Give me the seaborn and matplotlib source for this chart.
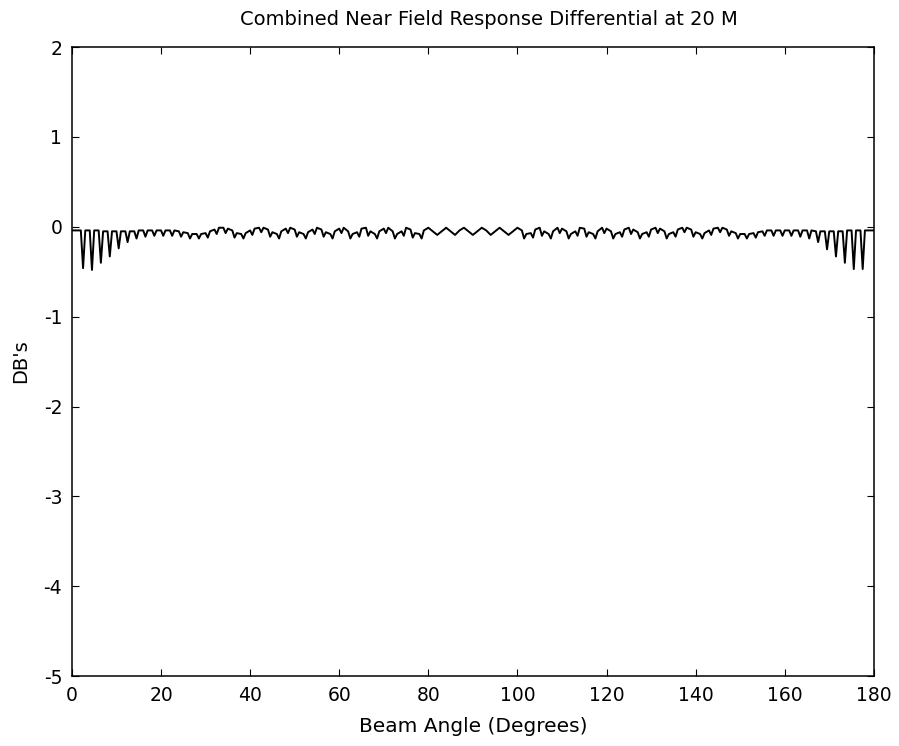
import numpy as np
import pandas as pd
import matplotlib
matplotlib.use("Agg")
import matplotlib.pyplot as plt
import seaborn as sns

# ---- data ----
# base response at every whole degree 0..180 (dB)
wave_deg = list(range(0, 181))
wave_db = [
    # 0-9
    -0.04, -0.04, -0.04, -0.04, -0.04, -0.04, -0.04, -0.05, -0.05, -0.05,
    # 10-19
    -0.05, -0.05, -0.05, -0.05, -0.05, -0.04, -0.04, -0.04, -0.04, -0.04,
    # 20-29
    -0.04, -0.04, -0.04, -0.04, -0.05, -0.06, -0.07, -0.08, -0.08, -0.08,
    # 30-39
    -0.07, -0.05, -0.03, -0.01, -0.01, -0.02, -0.04, -0.07, -0.08, -0.07,
    # 40-49
    -0.04, -0.02, -0.01, -0.01, -0.03, -0.06, -0.08, -0.05, -0.02, -0.01,
    # 50-59
    -0.03, -0.06, -0.08, -0.06, -0.03, -0.01, -0.03, -0.06, -0.08, -0.05,
    # 60-69
    -0.02, -0.01, -0.05, -0.08, -0.06, -0.02, -0.01, -0.05, -0.08, -0.05,
    # 70-79
    -0.02, -0.01, -0.05, -0.08, -0.05, -0.01, -0.03, -0.07, -0.08, -0.04,
    # 80-89
    -0.01, -0.05, -0.09, -0.05, -0.01, -0.05, -0.09, -0.04, -0.01, -0.05,
    # 90-99
    -0.09, -0.05, -0.01, -0.04, -0.09, -0.05, -0.01, -0.05, -0.09, -0.05,
    # 100-109
    -0.01, -0.04, -0.08, -0.07, -0.03, -0.01, -0.05, -0.08, -0.05, -0.01,
    # 110-119
    -0.02, -0.05, -0.08, -0.05, -0.01, -0.02, -0.06, -0.08, -0.05, -0.01,
    # 120-129
    -0.02, -0.05, -0.08, -0.06, -0.03, -0.01, -0.03, -0.06, -0.08, -0.06,
    # 130-139
    -0.03, -0.01, -0.02, -0.05, -0.08, -0.06, -0.03, -0.01, -0.01, -0.03,
    # 140-149
    -0.06, -0.08, -0.07, -0.04, -0.02, -0.01, -0.01, -0.03, -0.05, -0.07,
    # 150-159
    -0.08, -0.08, -0.08, -0.07, -0.06, -0.05, -0.04, -0.04, -0.04, -0.04,
    # 160-169
    -0.04, -0.04, -0.04, -0.04, -0.04, -0.04, -0.04, -0.05, -0.05, -0.05,
    # 170-180
    -0.05, -0.05, -0.05, -0.05, -0.04, -0.04, -0.04, -0.04, -0.04, -0.04, -0.04,
]

# narrow dips (spikes) between the whole degrees
spike_deg = [
    2.5, 4.5, 6.5, 8.5, 10.5, 12.5, 14.5, 16.5, 18.5, 20.5,
    22.5, 24.5, 26.5, 28.5, 30.5, 32.5, 34.5, 36.5, 38.5, 40.5,
    42.5, 44.5, 46.5, 48.5, 50.5, 52.5, 54.5, 56.5, 58.5, 60.5,
    62.5, 64.5, 66.5, 68.5, 70.5, 72.5, 74.5, 76.5, 78.5,
    101.5, 103.5, 105.5, 107.5, 109.5, 111.5, 113.5, 115.5, 117.5, 119.5,
    121.5, 123.5, 125.5, 127.5, 129.5, 131.5, 133.5, 135.5, 137.5, 139.5,
    141.5, 143.5, 145.5, 147.5, 149.5, 151.5, 153.5, 155.5, 157.5, 159.5,
    161.5, 163.5, 165.5, 167.5, 169.5, 171.5, 173.5, 175.5, 177.5,
]
spike_db = [
    -0.46, -0.48, -0.40, -0.33, -0.24, -0.17, -0.13, -0.11, -0.10, -0.10,
    -0.10, -0.11, -0.13, -0.13, -0.12, -0.08, -0.07, -0.12, -0.13, -0.09,
    -0.06, -0.11, -0.13, -0.07, -0.11, -0.13, -0.08, -0.11, -0.13, -0.07,
    -0.13, -0.11, -0.10, -0.13, -0.07, -0.13, -0.10, -0.12, -0.13,
    -0.13, -0.12, -0.10, -0.13, -0.07, -0.13, -0.10, -0.11, -0.13, -0.07,
    -0.13, -0.11, -0.08, -0.13, -0.11, -0.07, -0.13, -0.11, -0.06, -0.11,
    -0.13, -0.09, -0.06, -0.10, -0.13, -0.13, -0.12, -0.10, -0.10, -0.10,
    -0.10, -0.11, -0.13, -0.17, -0.25, -0.33, -0.40, -0.47, -0.47,
]

x_ticks = [0, 20, 40, 60, 80, 100, 120, 140, 160, 180]
y_ticks = [-5, -4, -3, -2, -1, 0, 1, 2]

assert len(wave_deg) == len(wave_db)
assert len(spike_deg) == len(spike_db)

df = pd.DataFrame({
    "angle": wave_deg + spike_deg,
    "db": wave_db + spike_db,
}).sort_values("angle").reset_index(drop=True)

# ---- plot ----
sns.set_theme(style="white")
plt.rcParams["font.family"] = ["DejaVu Sans"]

fig = plt.figure(figsize=(8.99, 7.46), dpi=100)
ax = fig.add_axes([0.080, 0.0938, 0.892, 0.843])

sns.lineplot(data=df, x="angle", y="db", ax=ax, color="black",
             linewidth=1.4, estimator=None, sort=True)

ax.set_xlim(0, 180)
ax.set_ylim(-5, 2)
ax.set_xticks(x_ticks)
ax.set_yticks(y_ticks)
ax.set_xticklabels([str(t) for t in x_ticks])
ax.set_yticklabels([str(t) for t in y_ticks])

ax.tick_params(direction="in", length=5, width=0.8, top=True, right=True,
               bottom=True, left=True, labelsize=13.5, colors="black")
ax.tick_params(axis="x", pad=7)
ax.tick_params(axis="y", pad=7)
for s in ax.spines.values():
    s.set_visible(True)
    s.set_color("black")
    s.set_linewidth(1.1)

ax.set_title("Combined Near Field Response Differential at 20 M",
             fontsize=14, pad=16, color="black", x=0.52)
ax.set_xlabel("Beam Angle (Degrees)", fontsize=14.5, labelpad=9, color="black")
ax.set_ylabel("DB's", fontsize=14, labelpad=10, color="black")
ax.grid(False)

fig.savefig("out.png", dpi=100, facecolor="white")
